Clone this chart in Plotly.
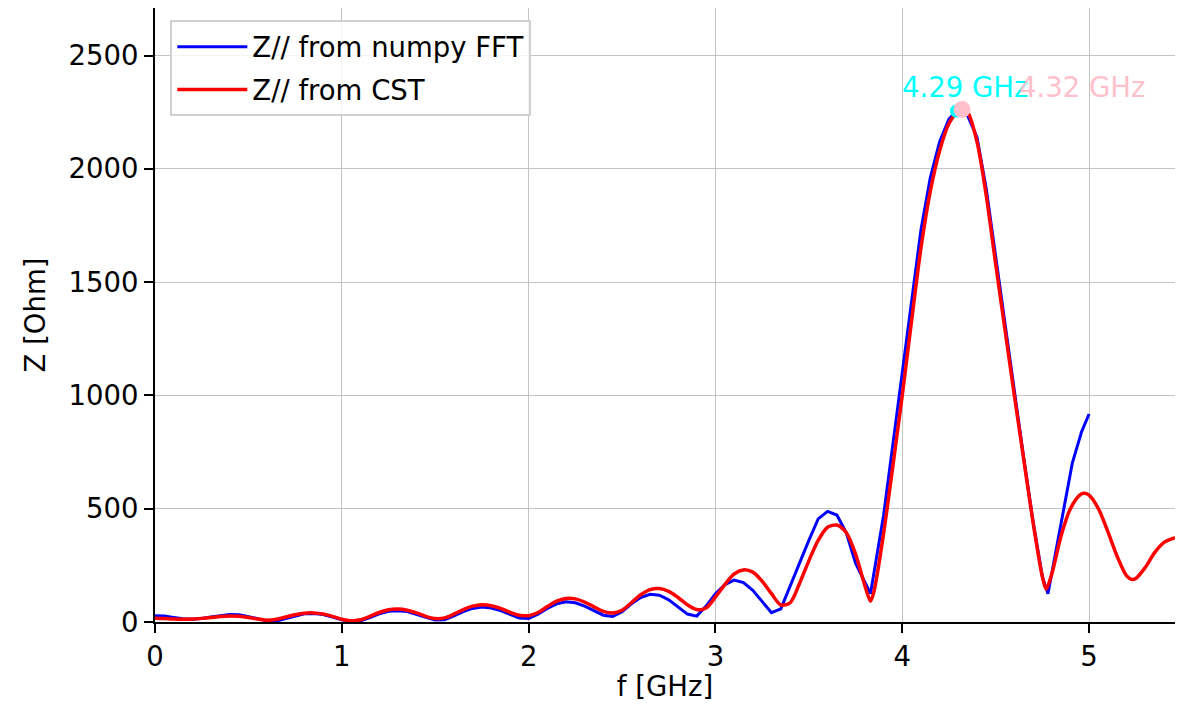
import plotly.graph_objects as go

# Z// from numpy FFT (blue)
fft_f = [0.00, 0.05, 0.10, 0.15, 0.20, 0.25, 0.30, 0.35, 0.40, 0.45, 0.50, 0.55, 0.60, 0.65,
         0.70, 0.75, 0.80, 0.85, 0.90, 0.95, 1.00, 1.05, 1.10, 1.15, 1.20, 1.25, 1.30, 1.35,
         1.40, 1.45, 1.50, 1.55, 1.60, 1.65, 1.70, 1.75, 1.80, 1.85, 1.90, 1.95, 2.00, 2.05,
         2.10, 2.15, 2.20, 2.25, 2.30, 2.35, 2.40, 2.45, 2.50, 2.55, 2.60, 2.65, 2.70, 2.75,
         2.80, 2.85, 2.90, 2.95, 3.00, 3.05, 3.10, 3.15, 3.20, 3.25, 3.30, 3.35, 3.40, 3.45,
         3.50, 3.55, 3.60, 3.65, 3.70, 3.75, 3.80, 3.83, 3.90, 3.95, 4.00, 4.05, 4.10, 4.15,
         4.20, 4.25, 4.29, 4.35, 4.40, 4.45, 4.50, 4.55, 4.60, 4.65, 4.70, 4.75, 4.78, 4.84,
         4.91, 4.96, 5.00]
fft_z = [28, 26, 20, 14, 12, 15, 22, 29, 33, 32, 25, 15, 5, 4,
         15, 27, 36, 38, 33, 22, 10, 2, 5, 20, 36, 47, 50, 46,
         35, 21, 9, 10, 27, 46, 60, 66, 62, 50, 34, 18, 16, 35,
         60, 80, 89, 85, 70, 50, 30, 24, 45, 80, 108, 122, 118, 98,
         68, 35, 26, 70, 125, 165, 185, 174, 140, 90, 41, 58, 160, 260,
         360, 455, 488, 472, 395, 260, 175, 125, 470, 790, 1100, 1430, 1730, 1960,
         2120, 2220, 2255, 2235, 2140, 1910, 1610, 1310, 1015, 725, 445, 200, 125, 392,
         700, 840, 918]

# Z// from CST (red)
cst_f = [0.00, 0.05, 0.10, 0.15, 0.20, 0.25, 0.30, 0.35, 0.40, 0.45, 0.50, 0.55, 0.60, 0.65,
         0.70, 0.75, 0.80, 0.85, 0.90, 0.95, 1.00, 1.05, 1.10, 1.15, 1.20, 1.25, 1.30, 1.35,
         1.40, 1.45, 1.50, 1.55, 1.60, 1.65, 1.70, 1.75, 1.80, 1.85, 1.90, 1.95, 2.00, 2.05,
         2.10, 2.15, 2.20, 2.25, 2.30, 2.35, 2.40, 2.45, 2.50, 2.55, 2.60, 2.65, 2.70, 2.75,
         2.80, 2.85, 2.90, 2.95, 3.00, 3.05, 3.10, 3.15, 3.20, 3.25, 3.30, 3.35, 3.40, 3.45,
         3.50, 3.55, 3.60, 3.65, 3.70, 3.75, 3.80, 3.83, 3.85, 3.90, 3.95, 4.00, 4.05, 4.10,
         4.15, 4.20, 4.25, 4.30, 4.32, 4.35, 4.40, 4.45, 4.50, 4.55, 4.60, 4.65, 4.70, 4.75,
         4.77, 4.80, 4.85, 4.90, 4.95, 4.97, 5.00, 5.05, 5.10, 5.15, 5.20, 5.23, 5.25, 5.30,
         5.35, 5.40, 5.46]
cst_z = [16, 15, 13, 12, 13, 16, 20, 24, 26, 25, 20, 13, 8, 12,
         22, 32, 39, 40, 35, 25, 12, 5, 10, 25, 42, 54, 57, 52,
         40, 25, 15, 18, 35, 55, 70, 76, 72, 60, 43, 30, 28, 42,
         68, 92, 104, 102, 88, 67, 47, 40, 52, 85, 120, 143, 148, 135,
         108, 76, 55, 62, 110, 165, 212, 230, 220, 180, 125, 75, 85, 170,
         270, 360, 418, 428, 395, 300, 160, 92, 140, 390, 690, 1000, 1330, 1650,
         1900, 2080, 2200, 2255, 2262, 2250, 2120, 1880, 1580, 1290, 1000, 720, 440, 200,
         145, 210, 380, 500, 560, 568, 560, 500, 400, 290, 205, 188, 192, 240,
         305, 350, 372]

peak_fft = (4.29, 2255)
peak_cst = (4.32, 2262)
label_fft = "4.29 GHz"
label_cst = "4.32 GHz"

FONT = "DejaVu Sans"
FS = 27.5

fig = go.Figure()
fig.add_trace(go.Scatter(x=fft_f, y=fft_z, mode="lines", name="Z// from numpy FFT",
                         legendgroup="a", line=dict(color="blue", width=3)))
fig.add_trace(go.Scatter(x=cst_f, y=cst_z, mode="lines", name="Z// from CST",
                         legendgroup="b",
                         line=dict(color="red", width=3.5, shape="spline", smoothing=0.8)))
fig.add_trace(go.Scatter(x=[peak_fft[0]], y=[peak_fft[1]], mode="markers", showlegend=False,
                         marker=dict(color="cyan", size=13)))
fig.add_trace(go.Scatter(x=[peak_cst[0]], y=[peak_cst[1]], mode="markers", showlegend=False,
                         marker=dict(color="pink", size=17)))

fig.add_annotation(x=4.335, y=2362, text=label_fft, showarrow=False,
                   font=dict(family=FONT, size=FS, color="cyan"))
fig.add_annotation(x=4.96, y=2362, text=label_cst, showarrow=False,
                   font=dict(family=FONT, size=FS, color="pink"))

axis_common = dict(showline=True, linecolor="black", linewidth=2, mirror=True,
                   ticks="outside", ticklen=9, tickwidth=2, tickcolor="black",
                   showgrid=True, gridcolor="#c4c4c4", gridwidth=1, zeroline=False,
                   tickfont=dict(family=FONT, size=FS, color="black"))

fig.update_xaxes(range=[0, 5.46], tick0=0, dtick=1,
                 title=dict(text="f [GHz]", font=dict(family=FONT, size=FS, color="black"), standoff=14),
                 **axis_common)
fig.update_yaxes(range=[0, 2710], tick0=0, dtick=500,
                 title=dict(text="Z [Ohm]", font=dict(family=FONT, size=FS, color="black"), standoff=15),
                 **axis_common)

fig.update_layout(
    width=1167, height=694,
    margin=dict(l=147, r=0, t=0, b=80, autoexpand=False),
    plot_bgcolor="white", paper_bgcolor="white",
    font=dict(family=FONT, size=FS, color="black"),
    legend=dict(x=0.015, y=0.98, xanchor="left", yanchor="top",
                bgcolor="rgba(255,255,255,0.8)", bordercolor="#d0d0d0", borderwidth=2,
                itemwidth=70, tracegroupgap=4,
                font=dict(family=FONT, size=FS, color="black")),
)

fig.write_html("out.html")
